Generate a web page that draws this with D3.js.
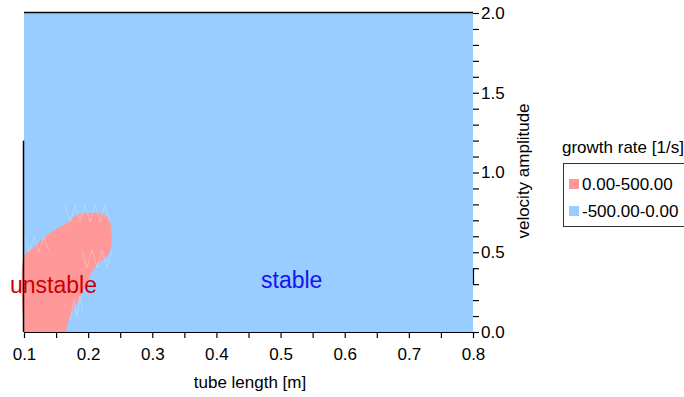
<!DOCTYPE html>
<html>
<head>
<meta charset="utf-8">
<script src="https://cdn.jsdelivr.net/npm/d3@7"></script>
<style>
  body { margin: 0; background: #fff; }
  svg { font-family: "Liberation Sans", Arial, sans-serif; }
</style>
</head>
<body>
<div id="chart"></div>
<script>
// boundary of the unstable (growth rate > 0) region, tube length [m] vs velocity amplitude
const unstableLength = [0.1, 0.1, 0.114, 0.1405, 0.167, 0.1826, 0.198, 0.2185, 0.231, 0.2356, 0.2356, 0.231, 0.2185, 0.2076, 0.198, 0.1873, 0.1764, 0.1686, 0.1655];
const unstableAmp    = [0, 0.476, 0.527, 0.621, 0.683, 0.734, 0.746, 0.746, 0.715, 0.658, 0.533, 0.483, 0.439, 0.389, 0.307, 0.219, 0.138, 0.056, 0];

// faint mesh lines left by the contouring near the boundary
const meshLength = [
  [0.164, 0.172, 0.180, 0.187, 0.195, 0.203, 0.211, 0.219, 0.226, 0.234],
  [0.1, 0.108, 0.116, 0.123, 0.131, 0.139],
  [0.190, 0.198, 0.206, 0.214, 0.222, 0.229, 0.237],
  [0.172, 0.178, 0.183, 0.187, 0.192]
];
const meshAmp = [
  [0.796, 0.69, 0.796, 0.69, 0.796, 0.69, 0.796, 0.69, 0.796, 0.69],
  [0.596, 0.502, 0.596, 0.502, 0.596, 0.502],
  [0.514, 0.401, 0.514, 0.401, 0.514, 0.401, 0.514],
  [0.075, 0.20, 0.09, 0.226, 0.125]
];

const xTicks = [0.1, 0.15, 0.2, 0.25, 0.3, 0.35, 0.4, 0.45, 0.5, 0.55, 0.6, 0.65, 0.7, 0.75, 0.8];
const xLabels = [0.1, 0.2, 0.3, 0.4, 0.5, 0.6, 0.7, 0.8];
const yTicks = [0, 0.1, 0.2, 0.3, 0.4, 0.5, 0.6, 0.7, 0.8, 0.9, 1.0, 1.1, 1.2, 1.3, 1.4, 1.5, 1.6, 1.7, 1.8, 1.9, 2.0];
const yLabels = [0, 0.5, 1.0, 1.5, 2.0];

const legendLabels = ["0.00-500.00", "-500.00-0.00"];
const legendColors = ["#ff9999", "#99ccff"];

const width = 684, height = 397;
const svg = d3.select('#chart').append('svg')
  .attr('width', width)
  .attr('height', height);

const x = d3.scaleLinear().domain([0.1, 0.8]).range([24, 473]);
const y = d3.scaleLinear().domain([0, 2]).range([332, 13]);

const isLabel = (list) => (d) => list.some(v => Math.abs(v - d) < 1e-9) ? d3.format('.1f')(d) : '';

// stable background
svg.append('rect')
  .attr('x', x(0.1)).attr('y', y(2))
  .attr('width', x(0.8) - x(0.1))
  .attr('height', y(0) - y(2))
  .style('fill', legendColors[1]);

// unstable region
const pts = unstableLength.map((d, i) => [x(d), y(unstableAmp[i])]);
svg.append('path')
  .attr('d', d3.line().curve(d3.curveCatmullRom)(pts) + 'Z')
  .style('fill', legendColors[0]);

// mesh artefacts
meshLength.forEach((row, k) => {
  svg.append('path')
    .attr('d', d3.line()(row.map((d, i) => [x(d), y(meshAmp[k][i])])))
    .style('fill', 'none')
    .style('stroke', '#fff')
    .style('stroke-opacity', 0.3)
    .style('stroke-width', 0.8);
});

// frame lines
svg.append('line')
  .attr('x1', x(0.1)).attr('x2', x(0.8))
  .attr('y1', y(2) - 0.5).attr('y2', y(2) - 0.5)
  .style('stroke', '#000').style('stroke-width', 1.5);
svg.append('line')
  .attr('x1', x(0.1) - 0.5).attr('x2', x(0.1) - 0.5)
  .attr('y1', y(1.2)).attr('y2', y(0))
  .style('stroke', '#000').style('stroke-width', 1.5);
svg.append('line')
  .attr('x1', x(0.8) + 0.5).attr('x2', x(0.8) + 0.5)
  .attr('y1', y(0.4)).attr('y2', y(0.3))
  .style('stroke', '#000').style('stroke-width', 1.2);

// x axis
const xAxis = svg.append('g')
  .attr('transform', `translate(0,${y(0)})`)
  .call(d3.axisBottom(x).tickValues(xTicks).tickSize(6).tickSizeOuter(0).tickFormat(isLabel(xLabels)));
xAxis.selectAll('text').style('font-size', '17px').attr('y', 28).attr('dy', 0).style('fill', '#000');
xAxis.selectAll('line, path').style('stroke', '#000').style('stroke-width', 1.2);

// y axis on the right
const yAxis = svg.append('g')
  .attr('transform', `translate(${x(0.8)},0)`)
  .call(d3.axisRight(y).tickValues(yTicks).tickSize(6).tickSizeOuter(0).tickFormat(isLabel(yLabels)));
yAxis.select('.domain').remove();
yAxis.selectAll('text').style('font-size', '17px').attr('x', 8).style('fill', '#000');
yAxis.selectAll('line').style('stroke', '#000').style('stroke-width', 1.2);

// axis titles
svg.append('text')
  .attr('x', 250).attr('y', 388)
  .attr('text-anchor', 'middle')
  .style('font-size', '17px')
  .text('tube length [m]');
svg.append('text')
  .attr('transform', 'translate(529,171) rotate(-90)')
  .attr('text-anchor', 'middle')
  .style('font-size', '17px')
  .text('velocity amplitude');

// region labels
svg.append('text')
  .attr('x', 10).attr('y', 293)
  .style('font-size', '23px')
  .style('fill', '#cc0000')
  .text('unstable');
svg.append('text')
  .attr('x', 261).attr('y', 288)
  .style('font-size', '23px')
  .style('fill', '#1414f0')
  .text('stable');

// legend
svg.append('text')
  .attr('x', 562).attr('y', 153)
  .style('font-size', '17px')
  .text('growth rate [1/s]');
svg.append('rect')
  .attr('x', 563.5).attr('y', 163.5)
  .attr('width', 130).attr('height', 63)
  .style('fill', 'none').style('stroke', '#333');
legendLabels.forEach((lab, i) => {
  svg.append('rect')
    .attr('x', 569).attr('y', 179 + i * 27)
    .attr('width', 10).attr('height', 10)
    .style('fill', legendColors[i]);
  svg.append('text')
    .attr('x', 582).attr('y', 190 + i * 27)
    .style('font-size', '17px')
    .text(lab);
});
</script>
</body>
</html>
